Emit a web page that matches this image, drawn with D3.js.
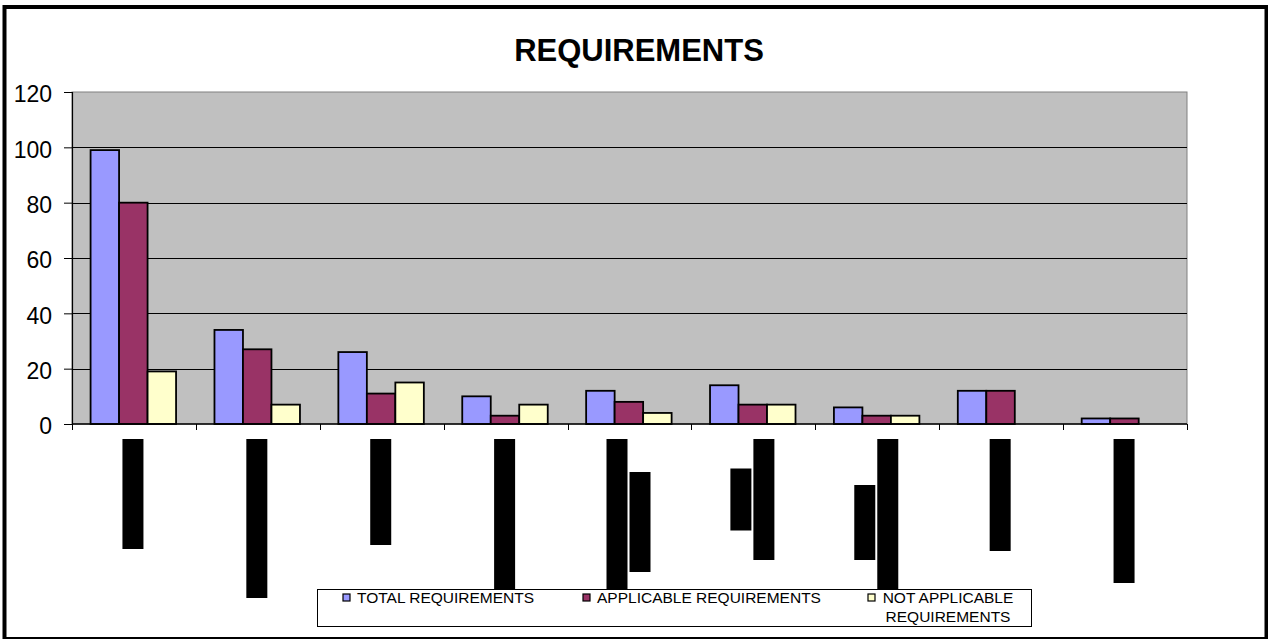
<!DOCTYPE html>
<html>
<head>
<meta charset="utf-8">
<script src="https://cdn.jsdelivr.net/npm/d3@7"></script>
<style>
  body { margin: 0; background: #fff; }
  svg { display: block; font-family: "Liberation Sans", Arial, sans-serif; }
</style>
</head>
<body>
<div id="chart"></div>
<script>
// category names are blacked out in the source, so only placeholders here
var categories = ["C1", "C2", "C3", "C4", "C5", "C6", "C7", "C8", "C9"];
var seriesNames = ["TOTAL REQUIREMENTS", "APPLICABLE REQUIREMENTS", "NOT APPLICABLE REQUIREMENTS"];
var totalReq = [99, 34, 26, 10, 12, 14, 6, 12, 2];
var applicableReq = [80, 27, 11, 3, 8, 7, 3, 12, 2];
var notApplicableReq = [19, 7, 15, 7, 4, 7, 3, 0, 0];
var yTicks = [0, 20, 40, 60, 80, 100, 120];
var titleText = "REQUIREMENTS";

// redacted label lines (length of each blacked-out line along the rotated text)
var redactedLines = [[110], [159], [106], [168], [166, 100], [62, 121], [75, 167], [112], [144]];

var colors = ["#9999FF", "#993366", "#FFFFCC"];

var W = 1268, H = 639;
var plot = {left: 72, right: 1187, top: 92, bottom: 424};

var svg = d3.select("#chart").append("svg")
    .attr("width", W)
    .attr("height", H);

// outer frame
svg.append("rect")
    .attr("x", 4.5).attr("y", 7)
    .attr("width", 1262).attr("height", 632)
    .attr("fill", "#fff")
    .attr("stroke", "#000")
    .attr("stroke-width", 4);

svg.append("text")
    .attr("x", 639).attr("y", 61)
    .attr("text-anchor", "middle")
    .attr("font-size", 31)
    .attr("font-weight", "bold")
    .text(titleText);

var x0 = d3.scaleBand()
    .domain(categories)
    .range([plot.left, plot.right])
    .paddingInner(0).paddingOuter(0);

var x1 = d3.scaleBand()
    .domain(d3.range(seriesNames.length))
    .range([x0.bandwidth() * 0.15, x0.bandwidth() * 0.84]);

var y = d3.scaleLinear()
    .domain([0, 120])
    .range([plot.bottom, plot.top]);

// plot area
svg.append("rect")
    .attr("x", plot.left).attr("y", plot.top)
    .attr("width", plot.right - plot.left)
    .attr("height", plot.bottom - plot.top)
    .attr("fill", "#C0C0C0")
    .attr("stroke", "#808080")
    .attr("stroke-width", 1);

// gridlines
svg.append("g")
    .selectAll("line")
    .data(yTicks.filter(function(d){ return d > 0 && d < 120; }))
    .enter().append("line")
    .attr("x1", plot.left).attr("x2", plot.right)
    .attr("y1", function(d){ return Math.round(y(d)) + 0.5; })
    .attr("y2", function(d){ return Math.round(y(d)) + 0.5; })
    .attr("stroke", "#000")
    .attr("stroke-width", 1);

// bars
var rows = categories.map(function(c, i){
    return {cat: c, vals: [totalReq[i], applicableReq[i], notApplicableReq[i]]};
});

var groups = svg.append("g")
    .selectAll("g")
    .data(rows)
    .enter().append("g")
    .attr("transform", function(d){ return "translate(" + x0(d.cat) + ",0)"; });

groups.selectAll("rect")
    .data(function(d){ return d.vals.map(function(v, k){ return {k: k, v: v}; }); })
    .enter().append("rect")
    .filter(function(d){ return d.v > 0; })
    .attr("x", function(d){ return x1(d.k); })
    .attr("y", function(d){ return y(d.v); })
    .attr("width", x1.bandwidth())
    .attr("height", function(d){ return y(0) - y(d.v); })
    .attr("fill", function(d){ return colors[d.k]; })
    .attr("stroke", "#000")
    .attr("stroke-width", 1.8);

// y axis
var yAxis = d3.axisLeft(y).tickValues(yTicks).tickSize(8).tickPadding(12);
var yg = svg.append("g")
    .attr("transform", "translate(" + plot.left + ",0)")
    .call(yAxis);
yg.select(".domain").attr("stroke", "#000").attr("stroke-width", 1.2);
yg.selectAll(".tick line").attr("stroke", "#000");
yg.selectAll(".tick text")
    .attr("font-size", 23)
    .attr("font-family", "Liberation Sans, Arial, sans-serif")
    .attr("fill", "#000")
    .attr("dy", "0.42em");

// x axis: ticks on band boundaries, labels redacted
svg.append("line")
    .attr("x1", plot.left).attr("x2", plot.right)
    .attr("y1", plot.bottom).attr("y2", plot.bottom)
    .attr("stroke", "#000").attr("stroke-width", 1.6);

var bounds = categories.map(function(c){ return x0(c); }).concat([plot.right]);
svg.append("g")
    .selectAll("line")
    .data(bounds)
    .enter().append("line")
    .attr("x1", function(d){ return Math.round(d) + 0.5; })
    .attr("x2", function(d){ return Math.round(d) + 0.5; })
    .attr("y1", plot.bottom).attr("y2", plot.bottom + 6)
    .attr("stroke", "#000").attr("stroke-width", 1);

var lineW = 21, lineGap = 2, labelTop = 439;
var labels = svg.append("g");
categories.forEach(function(c, i){
    var lines = redactedLines[i];
    var n = lines.length;
    var blockW = n * lineW + (n - 1) * lineGap;
    var cx = x0(c) + x0.bandwidth() / 2 - 1;
    var maxLen = d3.max(lines);
    var midY = labelTop + maxLen / 2;
    lines.forEach(function(len, j){
        labels.append("rect")
            .attr("x", cx - blockW / 2 + j * (lineW + lineGap))
            .attr("y", midY - len / 2)
            .attr("width", lineW)
            .attr("height", len)
            .attr("fill", "#000");
    });
});

// legend
var leg = svg.append("g");
leg.append("rect")
    .attr("x", 317.5).attr("y", 589.5)
    .attr("width", 714).attr("height", 37)
    .attr("fill", "#fff")
    .attr("stroke", "#000")
    .attr("stroke-width", 1);

var legItems = [
    {x: 343, lines: ["TOTAL REQUIREMENTS"]},
    {x: 583, lines: ["APPLICABLE REQUIREMENTS"]},
    {x: 868, lines: ["NOT APPLICABLE", "REQUIREMENTS"]}
];

legItems.forEach(function(it, k){
    leg.append("rect")
        .attr("x", it.x).attr("y", 594)
        .attr("width", 7).attr("height", 7)
        .attr("fill", colors[k])
        .attr("stroke", "#000")
        .attr("stroke-width", 1.2);
    var t = leg.append("text")
        .attr("font-size", 15.5)
        .attr("fill", "#000");
    if (it.lines.length === 1) {
        t.attr("x", it.x + 14).attr("y", 603).text(it.lines[0]);
    } else {
        t.attr("text-anchor", "middle");
        it.lines.forEach(function(s, j){
            t.append("tspan")
                .attr("x", it.x + 80)
                .attr("y", 603 + j * 19)
                .text(s);
        });
    }
});
</script>
</body>
</html>
